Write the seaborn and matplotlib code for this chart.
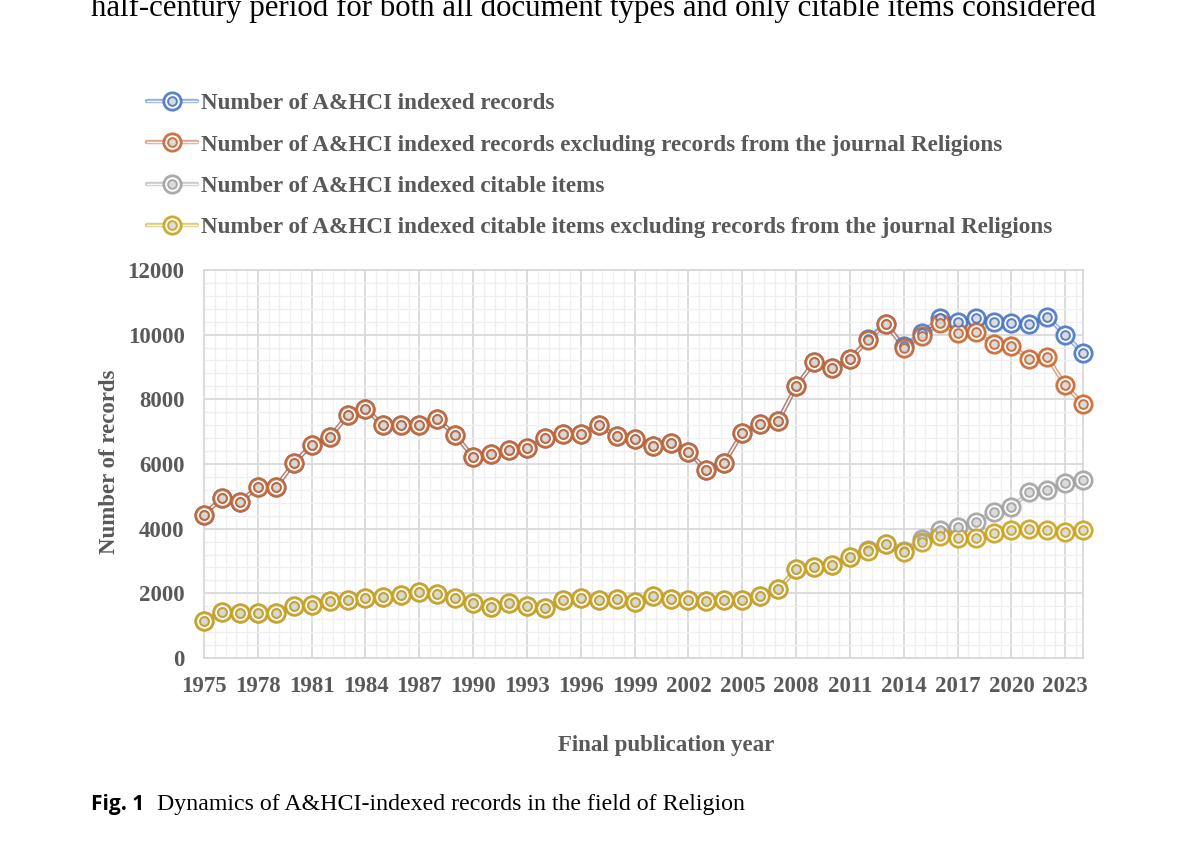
import pandas as pd
import matplotlib.pyplot as plt
import seaborn as sns
from matplotlib.ticker import MultipleLocator

# Data
years = list(range(1975, 2025))

records = [4430, 4950, 4830, 5290, 5280, 6020, 6600, 6820, 7500, 7710,
           7190, 7190, 7190, 7400, 6890, 6220, 6320, 6420, 6490, 6810,
           6940, 6940, 7200, 6850, 6780, 6560, 6660, 6370, 5800, 6040,
           6970, 7240, 7330, 8400, 9150, 8970, 9240, 9870, 10340, 9640,
           10050, 10500, 10380, 10500, 10380, 10360, 10340, 10550, 9990, 9420]

records_excl = [4430, 4950, 4830, 5290, 5280, 6020, 6600, 6820, 7500, 7710,
                7190, 7190, 7190, 7400, 6890, 6220, 6320, 6420, 6490, 6810,
                6940, 6940, 7200, 6850, 6780, 6560, 6660, 6370, 5800, 6040,
                6970, 7240, 7330, 8400, 9150, 8970, 9240, 9820, 10330, 9600,
                9950, 10370, 10040, 10070, 9720, 9660, 9250, 9300, 8430, 7840]

citable = [1150, 1430, 1380, 1380, 1400, 1600, 1640, 1770, 1790, 1860,
           1890, 1960, 2030, 1980, 1840, 1690, 1590, 1690, 1620, 1560,
           1790, 1860, 1790, 1820, 1740, 1910, 1820, 1790, 1770, 1790,
           1790, 1910, 2130, 2750, 2800, 2870, 3110, 3340, 3520, 3300,
           3690, 3950, 4050, 4210, 4520, 4670, 5130, 5210, 5410, 5500]

citable_excl = [1150, 1430, 1380, 1380, 1400, 1600, 1640, 1770, 1790, 1860,
                1890, 1960, 2030, 1980, 1840, 1690, 1590, 1690, 1620, 1560,
                1790, 1860, 1790, 1820, 1740, 1910, 1820, 1790, 1770, 1790,
                1790, 1910, 2130, 2750, 2800, 2870, 3110, 3300, 3510, 3280,
                3590, 3770, 3720, 3700, 3850, 3950, 4000, 3950, 3900, 3950]

xtick_years = list(range(1975, 2024, 3))

labels = ["Number of A&HCI indexed records",
          "Number of A&HCI indexed records excluding records from the journal Religions",
          "Number of A&HCI indexed citable items",
          "Number of A&HCI indexed citable items excluding records from the journal Religions"]
colors = ["#4472C4", "#C8622A", "#A0A0A0", "#C9A018"]
series = [records, records_excl, citable, citable_excl]

sns.set_style("white")
plt.rcParams['font.family'] = ['Liberation Serif', 'DejaVu Serif']
grey_txt = "#595959"

fig = plt.figure(figsize=(11.93, 8.5), dpi=100)
ax = fig.add_axes([0.171, 0.2259, 0.737, 0.4565])

handles = []
for vals, col, lab in zip(series, colors, labels):
    df = pd.DataFrame({"year": years, "value": vals})
    # compound (double) line: coloured band with a white core
    sns.lineplot(data=df, x="year", y="value", ax=ax, color=col, lw=3.2,
                 alpha=0.55, zorder=3)
    sns.lineplot(data=df, x="year", y="value", ax=ax, color="white", lw=1.0,
                 alpha=0.9, zorder=3)
    # double ring markers
    sns.lineplot(data=df, x="year", y="value", ax=ax, color=col, linestyle="",
                 marker="o", markersize=12.5, markerfacecolor="white",
                 markeredgecolor=col, markeredgewidth=2.0, alpha=0.88,
                 zorder=4, clip_on=False)
    sns.lineplot(data=df, x="year", y="value", ax=ax, color=col, linestyle="",
                 marker="o", markersize=6.3, markerfacecolor="#d8d8d8",
                 markeredgecolor=col, markeredgewidth=1.4, alpha=0.88,
                 zorder=5, clip_on=False)
    lines = ax.get_lines()[-4:]
    handles.append(tuple(lines))

ax.set_xlim(1975, 2024)
ax.set_ylim(0, 12000)
ax.set_xticks(xtick_years)
ax.set_xticks([1975 + 0.6 * k for k in range(82)], minor=True)
ax.yaxis.set_major_locator(MultipleLocator(2000))
ax.yaxis.set_minor_locator(MultipleLocator(400))
ax.grid(which="major", color="#d9d9d9", lw=1.3, zorder=1)
ax.grid(which="minor", color="#efefef", lw=0.9, zorder=0)
ax.set_axisbelow(True)
for sp in ax.spines.values():
    sp.set_color("#d9d9d9")
    sp.set_linewidth(1.3)
ax.tick_params(axis="both", which="both", length=0, labelsize=16.5,
               labelcolor=grey_txt)
ax.tick_params(axis="y", pad=14)
ax.tick_params(axis="x", pad=13)
for t in ax.get_xticklabels() + ax.get_yticklabels():
    t.set_fontweight("bold")
ax.set_xlabel("")
ax.set_ylabel("")

fig.text(0.092, 0.4565, "Number of records", rotation=90, ha="center",
         va="center", fontsize=16.5, fontweight="bold", color=grey_txt)
fig.text(0.558, 0.1224, "Final publication year", ha="center", va="center",
         fontsize=16.5, fontweight="bold", color=grey_txt)

fig.legend(handles, labels, loc="upper left", bbox_to_anchor=(0.1056, 0.915),
           frameon=False, handlelength=2.15, handletextpad=0.2,
           labelspacing=0.86, prop={"family": "Liberation Serif",
                                    "weight": "bold", "size": 16.7},
           labelcolor=grey_txt)

# surrounding page text (top line is cut by the page edge, as in the source)
fig.text(0.076, 0.981, "half-century period for both all document types and "
         "only citable items considered", ha="left", va="baseline",
         fontsize=22.2, color="black")
fig.text(0.076, 0.047, "Fig. 1", ha="left", va="baseline", fontsize=15,
         fontweight="bold", family="Open Sans", color="black")
fig.text(0.1315, 0.047, "Dynamics of A&HCI-indexed records in the field of Religion",
         ha="left", va="baseline", fontsize=17.2, color="black")

fig.savefig("out.png", dpi=100)
